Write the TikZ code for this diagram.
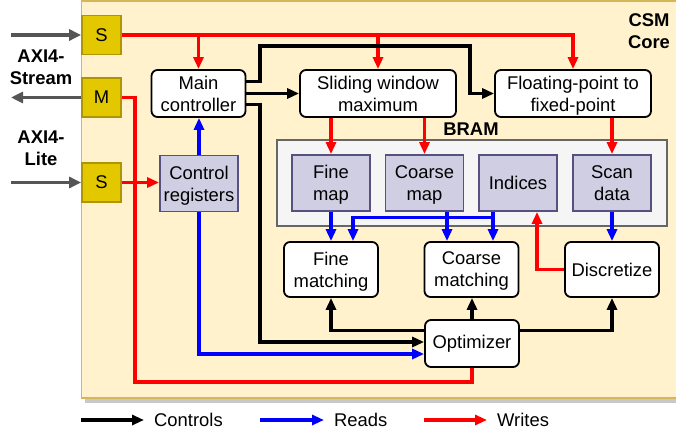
\documentclass[tikz,border=0pt]{standalone}
\usepackage{fontspec}
\setmainfont{Liberation Sans}
\usetikzlibrary{arrows.meta,calc}
\definecolor{corefill}{HTML}{FFF2CC}
\definecolor{coreline}{HTML}{D6B656}
\definecolor{gold}{HTML}{E3C800}
\definecolor{goldline}{HTML}{B09500}
\definecolor{purp}{HTML}{D0CEE2}
\definecolor{purpline}{HTML}{56517E}
\definecolor{bramfill}{HTML}{F5F5F5}
\definecolor{bramline}{HTML}{666666}
\definecolor{axgrey}{HTML}{555555}
\definecolor{shadowc}{HTML}{C8C8C8}
\definecolor{wred}{HTML}{FF0000}
\definecolor{rblue}{HTML}{0000FF}
\begin{document}
\begin{tikzpicture}[x=1pt,y=-1pt,
  font=\fontsize{18.4}{22}\selectfont,
  whitebox/.style={draw=black, fill=white, rounded corners=6pt, line width=1.8pt, align=center, inner sep=0pt, minimum width=94pt, minimum height=47pt},
  membox/.style={draw=purpline, fill=purp, line width=1.8pt, align=center, inner sep=0pt, minimum width=78pt, minimum height=56pt},
  portbox/.style={draw=goldline, fill=gold, line width=1.8pt, inner sep=0pt, minimum width=39pt, minimum height=39pt},
  boldlbl/.style={font=\fontsize{18.4}{22}\selectfont\bfseries, align=center, inner sep=0pt},
  tip/.style={-{Triangle[length=12pt,width=10pt]}},
  ct/.style={tip, draw=black, line width=3.2pt},
  rd/.style={tip, draw=rblue, line width=3.2pt},
  wr/.style={tip, draw=wred, line width=3.2pt},
  wrn/.style={draw=wred, line width=3.2pt},
  ax/.style={-{Triangle[length=12pt,width=11pt]}, draw=axgrey, line width=3.2pt},
  lgtext/.style={anchor=west, inner sep=0pt}
]
\useasboundingbox (0,0) rectangle (676,435);
% core background
\fill[shadowc] (85,5) rectangle (700,403);
\draw[fill=corefill, draw=coreline, line width=1.8pt] (81.5,0.9) rectangle (700,398);
\node[boldlbl] (csm) at (649,31) {CSM\\Core};

% ports
\node[portbox] (sT) at (101.5,35) {S};
\node[portbox] (mB) at (101.5,97.5) {M};
\node[portbox] (sB) at (101.5,182.5) {S};
\node[boldlbl] (axs) at (41,67.5) {AXI4-\\Stream};
\node[boldlbl] (axl) at (41,148) {AXI4-\\Lite};
\coordinate (a1) at (11,35);
\coordinate (a2) at (11,97.5);
\coordinate (a3) at (11,182.5);

% blocks
\node[whitebox] (main) at (198.5,93.5) {Main\\controller};
\node[membox] (ctrl) at (199,183.5) {Control\\\smash{registers}};
\node[whitebox, minimum width=156pt] (slide) at (378,93.5) {Sliding window\\maximum};
\node[whitebox, minimum width=156pt] (float) at (573,93.5) {Floating-point to\\\smash{fixed-point}};
\node[draw=bramline, fill=bramfill, line width=1.8pt, minimum width=390pt, minimum height=86pt, inner sep=0pt] (bram) at (472,183) {};
\node[boldlbl] (bramlbl) at (471,129) {BRAM};
\node[membox] (fineMap) at (331,183) {Fine\\\smash{map}};
\node[membox] (coarseMap) at (424.5,183) {Coarse\\\smash{map}};
\node[membox] (indices) at (518,183) {Indices};
\node[membox] (scan) at (612,183) {Scan\\data};
\node[whitebox, minimum height=55pt] (fineM) at (331,269.5) {Fine\\\smash{matching}};
\node[whitebox, minimum height=55pt] (coarseM) at (471.5,269.5) {Coarse\\\smash{matching}};
\node[whitebox, minimum height=55pt] (disc) at (612,269.5) {Discretize};
\node[whitebox] (opt) at (472,343.5) {Optimizer};

% AXI arrows
\draw[ax] (a1) -- (sT.west);
\draw[ax] (mB.west) -- (a2);
\draw[ax] (a3) -- (sB.west);

% writes
\draw[wr] (sT.east) -| (float.north);
\draw[wr] (main.north |- sT.east) -- (main.north);
\draw[wr] (slide.north |- sT.east) -- (slide.north);
\draw[wr] (fineMap.north |- slide.south) -- (fineMap.north);
\draw[wr] (coarseMap.north |- slide.south) -- (coarseMap.north);
\draw[wr] (scan.north |- float.south) -- (scan.north);
\draw[wr] (disc.west) -| ($(indices.south)+(19,0)$);
\draw[wr] (sB.east) -- (ctrl.west |- sB.east);
\coordinate (k1) at (135,382);
\draw[wrn] (opt.south) |- (k1) |- (mB.east);

% controls
\coordinate (j1) at (260,46);
\coordinate (j2) at (470,46);
\coordinate (j3) at (260,342);
\draw[ct] ($(main.east)+(0,-12)$) -| (j1) -- (j2) |- (float.west);
\draw[ct] (main.east) -- (slide.west);
\draw[ct] ($(main.east)+(0,11)$) -| (j3) -- (opt.west |- j3);
\draw[ct] (opt.north) -- (coarseM.south -| opt.north);
\draw[ct] ($(opt.west)+(0,-13)$) -| (fineM.south);
\draw[ct] ($(opt.east)+(0,-13)$) -| (disc.south);

% reads
\draw[rd] (ctrl.north) -- (ctrl.north |- main.south);
\draw[rd] (ctrl.south) |- ($(opt.west)+(0,10.5)$);
\draw[rd] (fineMap.south) -- (fineM.north);
\coordinate (cA) at ($(coarseM.north)+(-24.5,0)$);
\coordinate (cB) at ($(coarseM.north)+(21.5,0)$);
\coordinate (fB) at ($(fineM.north)+(22,0)$);
\draw[rd] (cA |- coarseMap.south) -- (cA);
\draw[rd] (cB |- indices.south) -- (cB);
\draw[rd] (cB |- indices.south) -- ++(0,6) -| (fB);
\draw[rd] (scan.south) -- (disc.north);

% legend
\node[lgtext] (lc) at (154,420) {Controls};
\node[lgtext] (lr) at (334,420) {Reads};
\node[lgtext] (lw) at (497,420) {Writes};
\coordinate (l1) at (81,420);
\coordinate (l2) at (260,420);
\coordinate (l3) at (424,420);
\draw[ct] (l1) -- ([xshift=-10pt]lc.west);
\draw[rd] (l2) -- ([xshift=-10pt]lr.west);
\draw[wr] (l3) -- ([xshift=-10pt]lw.west);
\end{tikzpicture}
\end{document}
